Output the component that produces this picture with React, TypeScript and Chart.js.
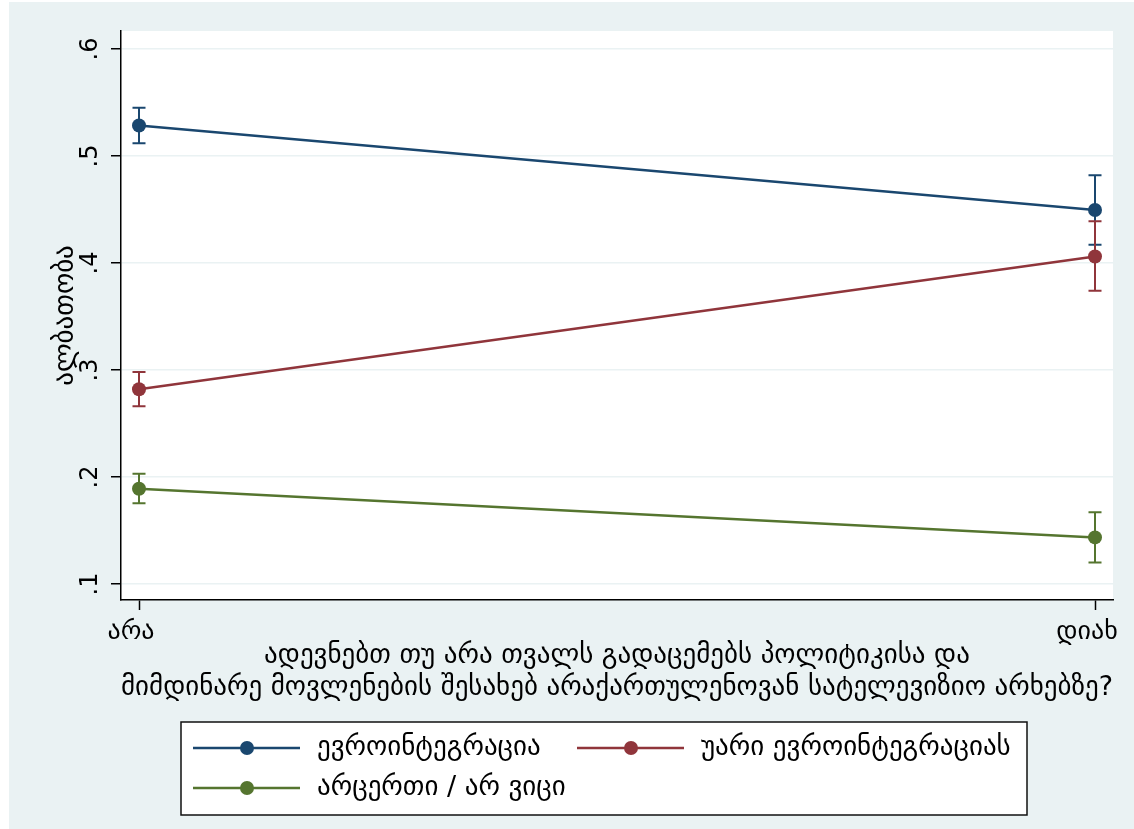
import { useEffect, useRef } from 'react';
import { Chart, registerables } from 'chart.js';

Chart.register(...registerables);

const categories = ['არა', 'დიახ'];
const seriesNames = ['ევროინტეგრაცია', 'უარი ევროინტეგრაციას', 'არცერთი / არ ვიცი'];
const seriesColors = ['#1a476f', '#90353b', '#55752f'];

const euroMean = [0.5285, 0.4495];
const euroLow = [0.512, 0.417];
const euroHigh = [0.545, 0.482];

const againstMean = [0.282, 0.406];
const againstLow = [0.266, 0.374];
const againstHigh = [0.298, 0.439];

const neitherMean = [0.189, 0.1435];
const neitherLow = [0.1755, 0.12];
const neitherHigh = [0.203, 0.167];

const yTicks = [0.1, 0.2, 0.3, 0.4, 0.5, 0.6];
const yTickLabels = ['.1', '.2', '.3', '.4', '.5', '.6'];
const yTitle = 'ალბათობა';
const xTitle = [
  'ადევნებთ თუ არა თვალს გადაცემებს პოლიტიკისა და',
  'მიმდინარე მოვლენების შესახებ არაქართულენოვან სატელევიზიო არხებზე?',
];

const FONT = '"DejaVu Sans", sans-serif';
const BG = '#eaf2f3';

const means = [euroMean, againstMean, neitherMean];
const lows = [euroLow, againstLow, neitherLow];
const highs = [euroHigh, againstHigh, neitherHigh];

const bgPlugin = {
  id: 'bgPlugin',
  beforeDraw(chart: any) {
    const { ctx, chartArea: a } = chart;
    ctx.save();
    ctx.fillStyle = BG;
    ctx.fillRect(0, 0, chart.width, chart.height);
    ctx.fillStyle = '#ffffff';
    ctx.fillRect(a.left, a.top, a.right - a.left, a.bottom - a.top);
    ctx.restore();
  },
};

const errorBarPlugin = {
  id: 'errorBars',
  beforeDatasetsDraw(chart: any) {
    const { ctx } = chart;
    const xs = chart.scales.x;
    const ys = chart.scales.y;
    ctx.save();
    ctx.lineWidth = 2;
    ctx.lineCap = 'butt';
    means.forEach((_, si) => {
      ctx.strokeStyle = seriesColors[si];
      categories.forEach((_, ci) => {
        const x = xs.getPixelForValue(ci);
        const y1 = ys.getPixelForValue(lows[si][ci]);
        const y2 = ys.getPixelForValue(highs[si][ci]);
        ctx.beginPath();
        ctx.moveTo(x, y1);
        ctx.lineTo(x, y2);
        ctx.moveTo(x - 6.5, y1);
        ctx.lineTo(x + 6.5, y1);
        ctx.moveTo(x - 6.5, y2);
        ctx.lineTo(x + 6.5, y2);
        ctx.stroke();
      });
    });
    ctx.restore();
  },
};

const yLabelPlugin = {
  id: 'yLabels',
  afterDraw(chart: any) {
    const { ctx } = chart;
    const ys = chart.scales.y;
    const baseX = ys.right - 24;
    ctx.save();
    ctx.fillStyle = '#000';
    ctx.font = `24px ${FONT}`;
    ctx.textAlign = 'center';
    ctx.textBaseline = 'alphabetic';
    yTicks.forEach((v, i) => {
      const y = ys.getPixelForValue(v);
      ctx.save();
      ctx.translate(baseX, y);
      ctx.rotate(-Math.PI / 2);
      ctx.fillText(yTickLabels[i], 0, 0);
      ctx.restore();
    });
    ctx.restore();
  },
};

const legendPlugin = {
  id: 'boxLegend',
  afterDraw(chart: any) {
    const { ctx, chartArea: a } = chart;
    const left = a.left + 60;
    const top = a.bottom + 122;
    const w = 846;
    const h = 93;
    ctx.save();
    ctx.fillStyle = '#ffffff';
    ctx.fillRect(left, top, w, h);
    ctx.strokeStyle = '#111';
    ctx.lineWidth = 1.5;
    ctx.strokeRect(left, top, w, h);
    const cols = [left + 12, left + 396];
    const rows = [top + 26, top + 66];
    ctx.font = `27px ${FONT}`;
    ctx.textBaseline = 'middle';
    ctx.textAlign = 'left';
    seriesNames.forEach((name, i) => {
      const cx = cols[i % 2];
      const cy = rows[Math.floor(i / 2)];
      ctx.strokeStyle = seriesColors[i];
      ctx.lineWidth = 2.5;
      ctx.beginPath();
      ctx.moveTo(cx, cy);
      ctx.lineTo(cx + 107, cy);
      ctx.stroke();
      ctx.fillStyle = seriesColors[i];
      ctx.beginPath();
      ctx.arc(cx + 54, cy, 7, 0, Math.PI * 2);
      ctx.fill();
      ctx.fillStyle = '#000';
      ctx.fillText(name, cx + 124, cy);
    });
    ctx.restore();
  },
};

export default function App() {
  const ref = useRef<HTMLCanvasElement | null>(null);

  useEffect(() => {
    if (!ref.current) return;
    Chart.defaults.font.family = FONT;
    const datasets = seriesNames.map((name, si) => ({
      label: name,
      data: categories.map((_, ci) => ({ x: ci, y: means[si][ci] })),
      borderColor: seriesColors[si],
      backgroundColor: seriesColors[si],
      pointBackgroundColor: seriesColors[si],
      pointBorderColor: seriesColors[si],
      borderWidth: 2.5,
      pointRadius: 7,
      pointBorderWidth: 0,
      showLine: true,
      fill: false,
      tension: 0,
    }));
    const chart = new Chart(ref.current, {
      type: 'line',
      data: { datasets },
      options: {
        animation: false,
        responsive: true,
        maintainAspectRatio: false,
        layout: { padding: { left: 0, top: 29, right: 21, bottom: 125 } },
        plugins: {
          legend: { display: false },
          tooltip: { enabled: false },
        },
        scales: {
          x: {
            type: 'linear',
            min: -18 / 956,
            max: 1 + 18 / 956,
            afterBuildTicks: (s: any) => {
              s.ticks = categories.map((_, i) => ({ value: i }));
            },
            afterFit: (s: any) => {
              s.height = 104;
            },
            ticks: {
              callback: (v: any) => categories[v] ?? '',
              color: '#000',
              font: { size: 26 },
              padding: 7,
              labelOffset: -8,
              maxRotation: 0,
              minRotation: 0,
              autoSkip: false,
            },
            grid: {
              drawOnChartArea: false,
              tickLength: 10,
              tickColor: '#000',
              tickWidth: 1.5,
            },
            border: { color: '#000', width: 1.5 },
            title: {
              display: true,
              text: xTitle,
              color: '#000',
              font: { size: 27, lineHeight: 32 / 27 },
              padding: { top: 0, bottom: 0 },
            },
          },
          y: {
            type: 'linear',
            min: 0.085,
            max: 0.6168,
            afterBuildTicks: (s: any) => {
              s.ticks = yTicks.map((v) => ({ value: v }));
            },
            afterFit: (s: any) => {
              s.width = 112;
            },
            ticks: { display: false },
            grid: {
              color: BG,
              lineWidth: 1.5,
              tickLength: 10,
              tickColor: '#000',
              tickWidth: 1.5,
            },
            border: { color: '#000', width: 1.5 },
            title: {
              display: true,
              text: yTitle,
              color: '#000',
              font: { size: 27, lineHeight: 1.25 },
              padding: { top: 40, bottom: 0 },
            },
          },
        },
      },
      plugins: [bgPlugin, errorBarPlugin, yLabelPlugin, legendPlugin],
    });
    return () => chart.destroy();
  }, []);

  return (
    <div style={{ position: 'absolute', left: 9, top: 2, width: 1125, height: 827 }}>
      <canvas ref={ref} />
    </div>
  );
}
